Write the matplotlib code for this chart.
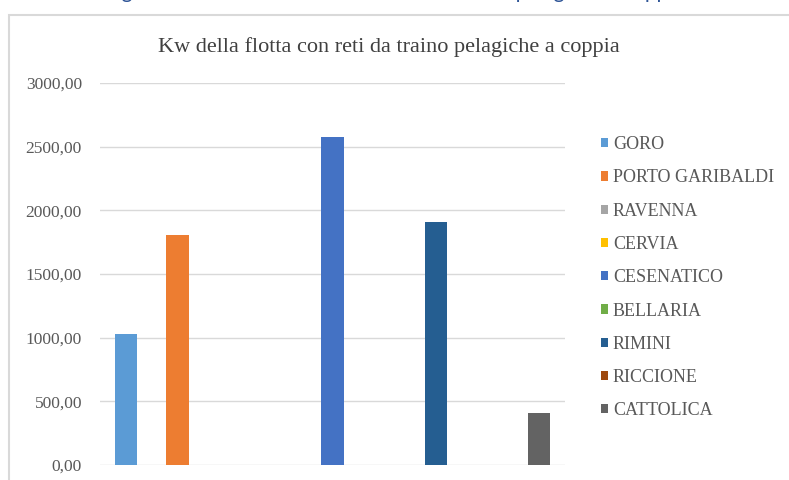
import matplotlib
matplotlib.use("Agg")
import matplotlib.pyplot as plt
from matplotlib.patches import Rectangle

# data
porti = ["GORO", "PORTO GARIBALDI", "RAVENNA", "CERVIA", "CESENATICO",
         "BELLARIA", "RIMINI", "RICCIONE", "CATTOLICA"]
kw = [1025, 1810, 0, 0, 2575, 0, 1910, 0, 408]
colori = ["#5B9BD5", "#ED7D31", "#A5A5A5", "#FFC000", "#4472C4",
          "#70AD47", "#255E91", "#9E480E", "#636363"]
yticks = [0, 500, 1000, 1500, 2000, 2500, 3000]

fig = plt.figure(figsize=(7.89, 4.80), dpi=100)

# caption of the page, mostly cut off above the chart box
fig.text(0.5, 1 + 1.5 / 480, "Figura 14 \u2013 Kw della flotta con reti da traino pelagiche a coppia",
         ha="center", va="baseline", fontsize=15, color="#2F5597", family="Lato")

# chart frame
fig.patches.append(Rectangle((9 / 789, -0.05), 1.0, 1 - 15 / 480 + 0.05,
                             transform=fig.transFigure, fill=False,
                             edgecolor="#D9D9D9", lw=1.5))

ax = fig.add_axes([100 / 789, 15 / 480, 465 / 789, (465 - 83) / 480])
for i, (p, v, c) in enumerate(zip(porti, kw, colori)):
    ax.bar(i, v, width=0.43, color=c, label=p, zorder=3)

ax.set_xlim(-0.5, len(porti) - 0.5)
ax.set_ylim(0, 3000)
ax.set_yticks(yticks)
ax.set_yticklabels([f"{t},00" for t in yticks], family="Liberation Serif",
                   fontsize=12.5, color="#595959")
ax.set_xticks([])
ax.tick_params(axis="y", length=0, pad=13)
ax.grid(axis="y", color="#D9D9D9", lw=1, zorder=0)
for s in ax.spines.values():
    s.set_visible(False)

fig.text(389 / 789, 1 - 47 / 480, "Kw della flotta con reti da traino pelagiche a coppia",
         ha="center", va="center", fontsize=16, color="#404040",
         family="Liberation Serif")

leg = ax.legend(loc="upper left", bbox_to_anchor=(585 / 789, 1 - 120 / 480),
                bbox_transform=fig.transFigure, frameon=False,
                prop={"family": "Liberation Serif", "size": 13},
                handlelength=0.4, handleheight=0.4, handletextpad=0.25,
                labelspacing=0.9, labelcolor="#595959")

fig.savefig("out.png", dpi=100)
